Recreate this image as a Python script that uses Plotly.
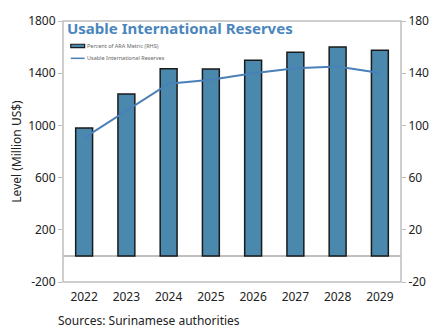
import plotly.graph_objects as go

years = ["2022", "2023", "2024", "2025", "2026", "2027", "2028", "2029"]
ara_pct = [98, 124, 143.5, 143.2, 150, 156, 160, 157.5]        # Percent of ARA Metric (RHS)
reserves = [905, 1110, 1319, 1349, 1399, 1437, 1452, 1401]     # Usable International Reserves, million US$

left_ticks = [-200, 200, 600, 1000, 1400, 1800]
left_labels = ["-200", "200", "600", "1000", "1400", "1800"]
right_ticks = [-20, 20, 60, 100, 140, 180]
right_labels = ["-20", "20", "60", "100", "140", "180"]

BAR = "#4a89ad"
LINE = "#4a80b8"
TITLE = "#4a86bd"
AXIS = "#bfbfbf"
FONT = "Noto Sans, Open Sans, sans-serif"

fig = go.Figure()

fig.add_trace(go.Bar(
    x=years, y=ara_pct, name="Percent of ARA Metric (RHS)",
    marker=dict(color=BAR, line=dict(color="#1a1a1a", width=1.5)),
    width=0.4, yaxis="y", showlegend=False,
))
fig.add_trace(go.Scatter(
    x=years, y=reserves, name="Usable International Reserves",
    mode="lines", line=dict(color=LINE, width=2), yaxis="y2", showlegend=False,
))

# compact legend drawn as small keys with labels
legend_shapes = [
    dict(type="rect", xref="paper", yref="paper", x0=0.023, x1=0.064, y0=0.898, y1=0.911,
         fillcolor=BAR, line=dict(color="#1a1a1a", width=1.2)),
    dict(type="line", xref="paper", yref="paper", x0=0.023, x1=0.064, y0=0.857, y1=0.857,
         line=dict(color=LINE, width=1.5)),
]
legend_labels = [
    dict(text="Percent of ARA Metric (RHS)", xref="paper", yref="paper", x=0.066, y=0.905,
         xanchor="left", yanchor="middle", showarrow=False, font=dict(size=5.5, color="#666666")),
    dict(text="Usable International Reserves", xref="paper", yref="paper", x=0.066, y=0.857,
         xanchor="left", yanchor="middle", showarrow=False, font=dict(size=5.5, color="#666666")),
]

fig.update_layout(
    width=441, height=328,
    margin=dict(l=63, r=33, t=16, b=46),
    paper_bgcolor="white", plot_bgcolor="white",
    font=dict(family=FONT, size=12, color="#222222"),
    xaxis=dict(
        type="category", range=[-0.5, 7.5], showgrid=False, showline=False,
        ticks="", tickfont=dict(size=12), ticklabelstandoff=6,
    ),
    yaxis=dict(
        side="right", range=[-20, 180], tickvals=right_ticks, ticktext=right_labels,
        showgrid=False, zeroline=True, zerolinecolor=AXIS, zerolinewidth=1.5,
        ticks="outside", ticklen=4, tickcolor=AXIS, showline=False,
        tickfont=dict(size=12),
    ),
    yaxis2=dict(
        side="left", overlaying="y", range=[-200, 1800], tickvals=left_ticks, ticktext=left_labels,
        showgrid=False, zeroline=False, ticks="outside", ticklen=4,
        tickcolor=AXIS, showline=False, tickfont=dict(size=12),
        title=dict(text="Level (Million US$)", font=dict(size=12), standoff=3),
    ),
    showlegend=False,
    shapes=[dict(type="rect", xref="paper", yref="paper", x0=0, x1=1, y0=0, y1=1,
                 line=dict(color=AXIS, width=1.5), layer="below")] + legend_shapes,
    annotations=[
        dict(text="<b>Usable International Reserves</b>", xref="paper", yref="paper",
             x=0.005, y=1.018, xanchor="left", yanchor="top", showarrow=False,
             font=dict(size=15, color=TITLE)),
        dict(text="Sources: Surinamese authorities", xref="paper", yref="paper",
             x=-0.022, y=-0.147, xanchor="left", yanchor="middle", showarrow=False,
             font=dict(size=12, color="#222222")),
    ] + legend_labels,
)

fig.write_html("out.html")
